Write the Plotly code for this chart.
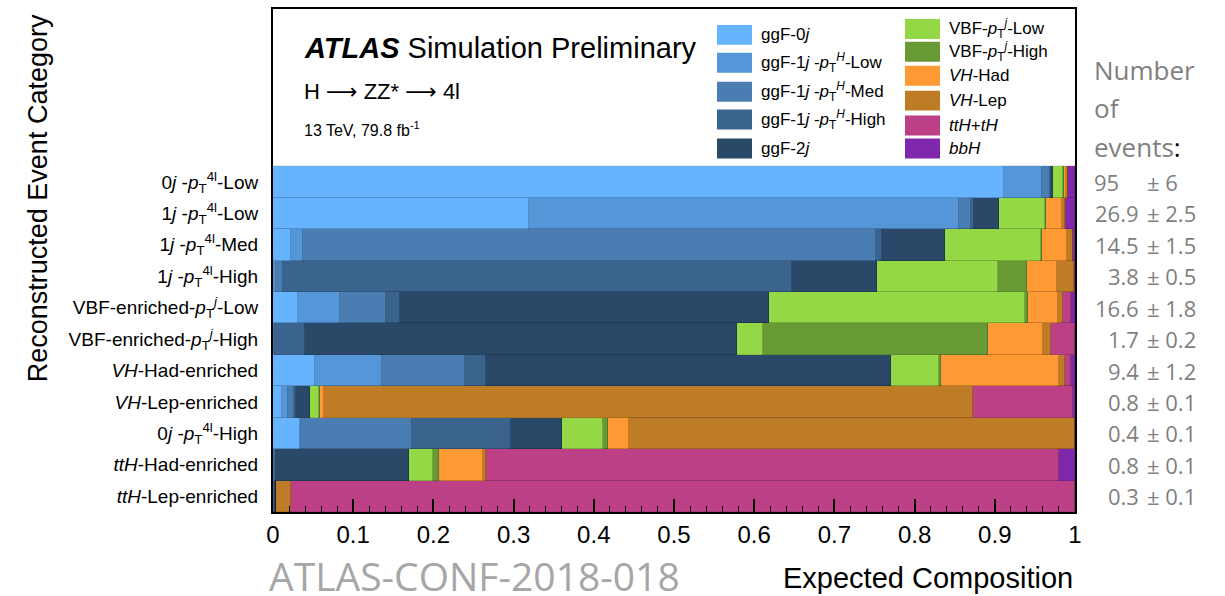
import plotly.graph_objects as go

# Reconstructed event categories, listed top to bottom
categories = [
    "0<i>j</i> -<i>p</i><sub>T</sub><sup>4l</sup>-Low",
    "1<i>j</i> -<i>p</i><sub>T</sub><sup>4l</sup>-Low",
    "1<i>j</i> -<i>p</i><sub>T</sub><sup>4l</sup>-Med",
    "1<i>j</i> -<i>p</i><sub>T</sub><sup>4l</sup>-High",
    "VBF-enriched-<i>p</i><sub>T</sub><sup><i>j</i></sup>-Low",
    "VBF-enriched-<i>p</i><sub>T</sub><sup><i>j</i></sup>-High",
    "<i>VH</i>-Had-enriched",
    "<i>VH</i>-Lep-enriched",
    "0<i>j</i> -<i>p</i><sub>T</sub><sup>4l</sup>-High",
    "<i>ttH</i>-Had-enriched",
    "<i>ttH</i>-Lep-enriched",
]

# Expected fraction of each production bin in every category
ggf_0j      = [0.911, 0.319, 0.023, 0.001, 0.031, 0.000, 0.052, 0.011, 0.034, 0.000, 0.000]
ggf_1j_low  = [0.048, 0.536, 0.014, 0.003, 0.053, 0.001, 0.084, 0.008, 0.001, 0.001, 0.001]
ggf_1j_med  = [0.010, 0.015, 0.715, 0.008, 0.057, 0.002, 0.103, 0.007, 0.138, 0.001, 0.000]
ggf_1j_high = [0.001, 0.004, 0.007, 0.635, 0.017, 0.037, 0.026, 0.003, 0.124, 0.002, 0.001]
ggf_2j      = [0.003, 0.031, 0.079, 0.106, 0.460, 0.538, 0.506, 0.017, 0.063, 0.165, 0.002]
vbf_low     = [0.012, 0.058, 0.119, 0.151, 0.320, 0.033, 0.059, 0.011, 0.051, 0.031, 0.000]
vbf_high    = [0.001, 0.001, 0.002, 0.036, 0.003, 0.281, 0.003, 0.001, 0.007, 0.007, 0.000]
vh_had      = [0.003, 0.020, 0.031, 0.038, 0.038, 0.068, 0.147, 0.006, 0.026, 0.055, 0.000]
vh_lep      = [0.002, 0.004, 0.008, 0.021, 0.006, 0.010, 0.008, 0.809, 0.556, 0.003, 0.018]
tth         = [0.000, 0.001, 0.000, 0.001, 0.010, 0.030, 0.007, 0.125, 0.000, 0.715, 0.978]
bbh         = [0.009, 0.011, 0.002, 0.000, 0.005, 0.000, 0.005, 0.002, 0.000, 0.020, 0.000]

# Expected number of events per category
n_events = ["95", "26.9", "14.5", "3.8", "16.6", "1.7", "9.4", "0.8", "0.4", "0.8", "0.3"]
n_errors = ["6", "2.5", "1.5", "0.5", "1.8", "0.2", "1.2", "0.1", "0.1", "0.1", "0.1"]

series = [
    ("ggF-0<i>j</i>", ggf_0j, "#66b3ff"),
    ("ggF-1<i>j</i> -<i>p</i><sub>T</sub><sup><i>H</i></sup>-Low", ggf_1j_low, "#5596d9"),
    ("ggF-1<i>j</i> -<i>p</i><sub>T</sub><sup><i>H</i></sup>-Med", ggf_1j_med, "#4a7db1"),
    ("ggF-1<i>j</i> -<i>p</i><sub>T</sub><sup><i>H</i></sup>-High", ggf_1j_high, "#3a638d"),
    ("ggF-2<i>j</i>", ggf_2j, "#2a4868"),
    ("VBF-<i>p</i><sub>T</sub><sup><i>j</i></sup>-Low", vbf_low, "#94d945"),
    ("VBF-<i>p</i><sub>T</sub><sup><i>j</i></sup>-High", vbf_high, "#679934"),
    ("<i>VH</i>-Had", vh_had, "#ff9933"),
    ("<i>VH</i>-Lep", vh_lep, "#bf7c26"),
    ("<i>ttH</i>+<i>tH</i>", tth, "#bd4087"),
    ("<i>bbH</i>", bbh, "#7f27ad"),
]

W, H = 1225, 596
L, R, T, B = 273, 1075, 7, 512   # plot-area edges in pixels


def px(x):
    return (x - L) / (R - L)


def py(y):
    return (B - y) / (B - T)


n = len(categories)
ypos = [n - 1 - i for i in range(n)]

HELV = "Liberation Sans, Arial, sans-serif"
CALI = "Open Sans, Noto Sans, sans-serif"
ARROW = "<span style='font-family:DejaVu Sans'>\u27f6</span>"

fig = go.Figure()
for name, vals, col in series:
    fig.add_trace(go.Bar(
        y=ypos, x=vals, orientation="h", name=name, width=1.0,
        marker=dict(color=col, line=dict(width=0.5, color="rgba(0,0,0,0.22)")),
        showlegend=False,
    ))

ann = []
shapes = []

# header text inside the frame
ann.append(dict(x=px(302), y=py(46), xref="paper", yref="paper", xanchor="left", yanchor="middle",
                text="<b><i>ATLAS</i></b> Simulation Preliminary", showarrow=False,
                font=dict(family=HELV, size=29, color="black")))
ann.append(dict(x=px(302), y=py(90), xref="paper", yref="paper", xanchor="left", yanchor="middle",
                text="H " + ARROW + " ZZ* " + ARROW + " 4l", showarrow=False,
                font=dict(family=HELV, size=22, color="black")))
ann.append(dict(x=px(302), y=py(127), xref="paper", yref="paper", xanchor="left", yanchor="middle",
                text="13 TeV, 79.8 fb<sup>-1</sup>", showarrow=False,
                font=dict(family=HELV, size=16, color="black")))

# two-column key
col1_y = [33, 61, 90, 118, 147]
col2_y = [27, 50, 74, 99, 124, 147]
slots = [(717, y) for y in col1_y] + [(905, y) for y in col2_y]
for (name, _, col), (sx, sy) in zip(series, slots):
    shapes.append(dict(type="rect", xref="paper", yref="paper",
                       x0=px(sx), x1=px(sx + 35), y0=py(sy + 10), y1=py(sy - 10),
                       fillcolor=col, line=dict(width=0)))
    ann.append(dict(x=px(sx + 42), y=py(sy), xref="paper", yref="paper", xanchor="left",
                    yanchor="middle", text=name, showarrow=False,
                    font=dict(family=HELV, size=17, color="black")))

# event yields column
GREY = "#7f7f7f"
for txt, y in [("Number", 68), ("of", 106), ("events<span style='color:black'>:</span>", 146)]:
    ann.append(dict(x=px(1092), y=py(y), xref="paper", yref="paper", xanchor="left",
                    yanchor="middle", text=txt, showarrow=False,
                    font=dict(family=CALI, size=26, color=GREY)))
for yv, v, e in zip(ypos, n_events, n_errors):
    if "." in v:
        ann.append(dict(x=px(1141), y=yv, xref="paper", yref="y", xanchor="right", yanchor="middle",
                        text=v, showarrow=False, font=dict(family=CALI, size=22, color=GREY)))
    else:
        ann.append(dict(x=px(1092), y=yv, xref="paper", yref="y", xanchor="left", yanchor="middle",
                        text=v, showarrow=False, font=dict(family=CALI, size=22, color=GREY)))
    ann.append(dict(x=px(1145), y=yv, xref="paper", yref="y", xanchor="left", yanchor="middle",
                    text="\u00b1 " + e, showarrow=False, font=dict(family=CALI, size=22, color=GREY)))

# axis titles and reference tag
ann.append(dict(x=px(38), y=py(197), xref="paper", yref="paper", xanchor="center", yanchor="middle",
                text="Reconstructed Event Category", textangle=-90, showarrow=False,
                font=dict(family=HELV, size=27, color="black")))
ann.append(dict(x=px(1075), y=py(578), xref="paper", yref="paper", xanchor="right", yanchor="middle",
                text="Expected Composition", showarrow=False,
                font=dict(family=HELV, size=29, color="black")))
ann.append(dict(x=px(268), y=py(575), xref="paper", yref="paper", xanchor="left", yanchor="middle",
                text="ATLAS-CONF-2018-018", showarrow=False, borderpad=0,
                height=40, valign="middle",
                font=dict(family=CALI, size=39, color="#a6a6a6")))

fig.update_layout(
    width=W, height=H,
    margin=dict(l=L, r=W - R, t=T, b=H - B, pad=0),
    barmode="stack", bargap=0,
    plot_bgcolor="white", paper_bgcolor="white",
    annotations=ann, shapes=shapes,
    xaxis=dict(range=[0, 1], dtick=0.1, ticks="inside", ticklen=13, tickwidth=1.5, tickcolor="black",
               showgrid=False, zeroline=False, showline=True, linecolor="black", linewidth=2,
               mirror=True, tickformat="~g",
               tickfont=dict(family=HELV, size=24, color="black"),
               minor=dict(dtick=0.02, ticks="inside", ticklen=6, tickwidth=1.2, tickcolor="black",
                          showgrid=False)),
    yaxis=dict(range=[-0.5, 15.5], tickvals=ypos, ticktext=categories, ticks="",
               showgrid=False, zeroline=False, showline=True, linecolor="black", linewidth=2,
               mirror=True, ticklabelstandoff=9,
               tickfont=dict(family=HELV, size=19, color="black")),
)

fig.write_html("out.html")
